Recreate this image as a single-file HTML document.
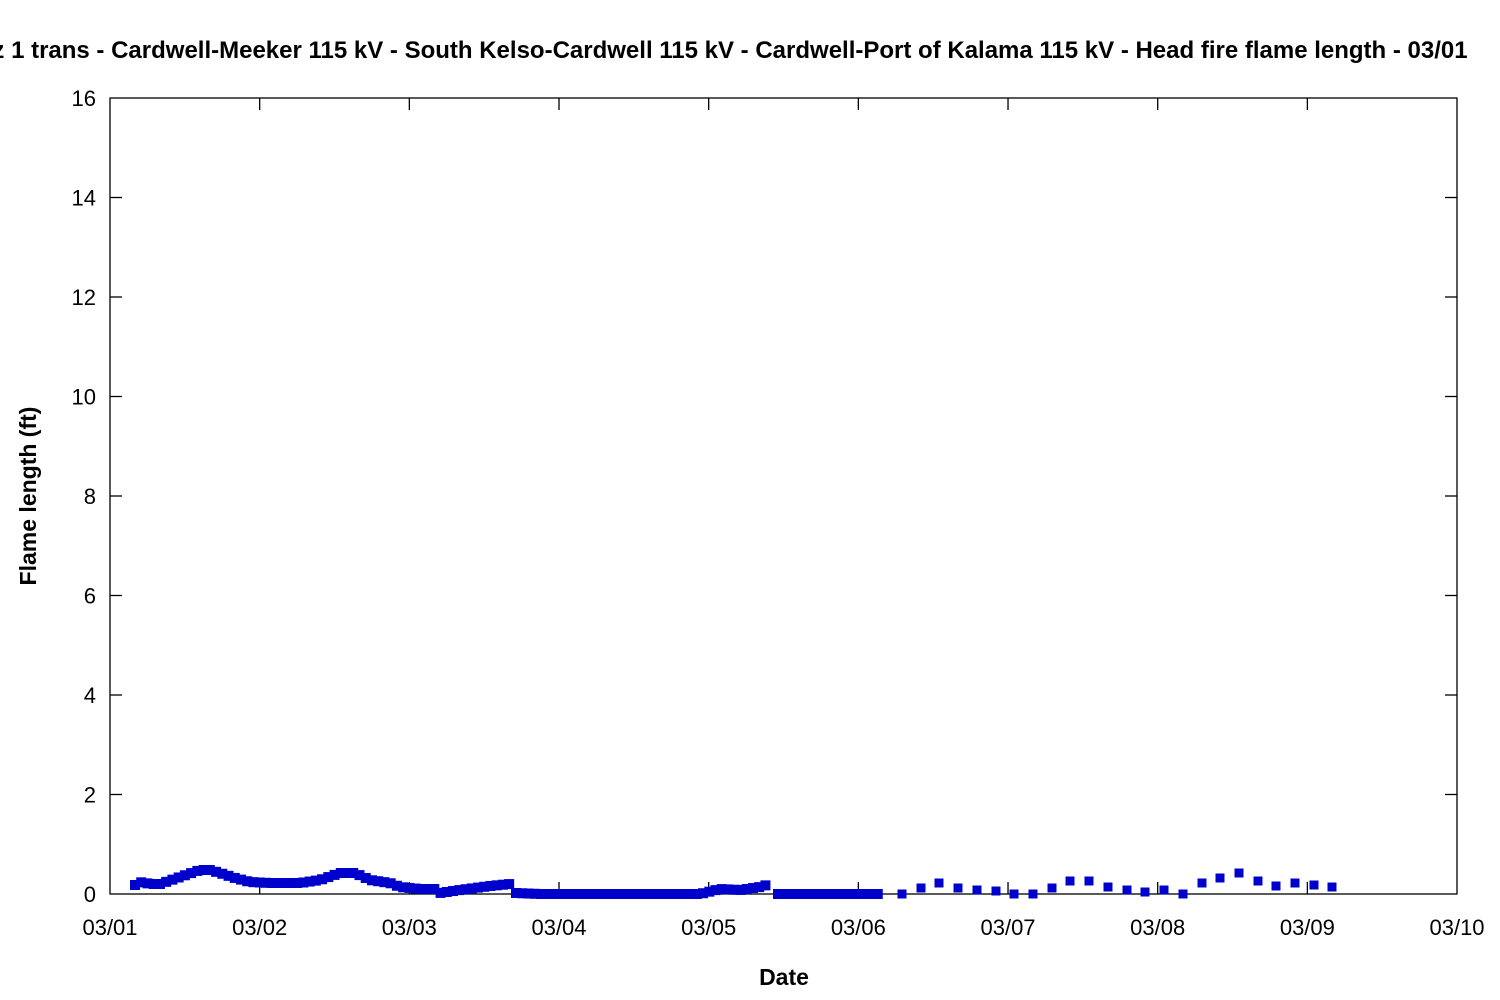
<!DOCTYPE html>
<html><head><meta charset="utf-8"><style>body{margin:0;background:#fff}svg{display:block}text{font-family:"Liberation Sans","DejaVu Sans",sans-serif}</style></head>
<body>
<svg id="s" width="1500" height="1000" xmlns="http://www.w3.org/2000/svg">
<rect width="1500" height="1000" fill="#fff"/>
<text x="694" y="58" text-anchor="middle" font-size="24" font-weight="bold">Cowlitz 1 trans - Cardwell-Meeker 115 kV - South Kelso-Cardwell 115 kV - Cardwell-Port of Kalama 115 kV - Head fire flame length - 03/01</text>
<g id="ax" stroke="#000" stroke-width="1.3" fill="none"><rect x="110" y="98" width="1347" height="796"/></g>
<g id="lab" font-size="22" fill="#000"></g>
<text x="784" y="985" text-anchor="middle" font-size="23" font-weight="bold">Date</text>
<text transform="translate(36,496) rotate(-90)" text-anchor="middle" font-size="23" font-weight="bold">Flame length (ft)</text>
<g id="pts" fill="#0000cc"></g>
</svg>
<script>
var ns="http://www.w3.org/2000/svg",ax=document.getElementById('ax'),lab=document.getElementById('lab'),pts=document.getElementById('pts');
function el(p,t,a){var e=document.createElementNS(ns,t);for(var k in a)e.setAttribute(k,a[k]);p.appendChild(e);return e;}
for(var i=0;i<=8;i++){var y=894-i*99.5;
 if(i>0&&i<8){el(ax,'line',{x1:110,y1:y,x2:122,y2:y});el(ax,'line',{x1:1445,y1:y,x2:1457,y2:y});}
 var t=el(lab,'text',{x:96,y:y+8,'text-anchor':'end'});t.textContent=String(i*2);}
for(var d=0;d<=9;d++){var x=110+d*149.67;
 if(d>0&&d<9){el(ax,'line',{x1:x,y1:894,x2:x,y2:882});el(ax,'line',{x1:x,y1:98,x2:x,y2:110});}
 var t=el(lab,'text',{x:x,y:935,'text-anchor':'middle'});t.textContent='03/'+(d<9?'0'+(d+1):'10');}
var segs=[
 [[135,885],[142,882],[150,884],[160,884],[180,877],[200,870],[210,870],[220,873],[235,878],[250,882],[270,883],[300,883],[320,880],[340,873],[355,873],[370,880],[390,883],[400,887],[420,889],[435,889],[440,893],[460,890],[490,886],[510,884]],
 [[516,893],[540,894],[700,894],[720,889],[740,890],[760,887],[770,884]],
 [[778,894],[882,894]]];
var h=6.236;
segs.forEach(function(s){var x0=s[0][0],x1=s[s.length-1][0];
 for(var x=x0;x<=x1+0.1;x+=h){var j=0;while(j<s.length-2&&s[j+1][0]<x)j++;
  var a=s[j],b=s[j+1],f=(x-a[0])/((b[0]-a[0])||1);f=Math.max(0,Math.min(1,f));var y=a[1]+f*(b[1]-a[1]);
  el(pts,'rect',{x:x-5,y:y-5,width:10,height:10});}});
[[902,894],[921,888],[939,883],[958,888],[977,890],[996,891],[1014,894],[1033,894],[1052,888],[1070,881],[1089,881],[1108,887],[1127,890],[1145,892],[1164,890],[1183,894],[1202,883],[1220,878],[1239,873],[1258,881],[1276,886],[1295,883],[1314,885],[1332,887]].forEach(function(p){el(pts,'rect',{x:p[0]-4.5,y:p[1]-4.5,width:9,height:9});});
</script>
</body></html>
